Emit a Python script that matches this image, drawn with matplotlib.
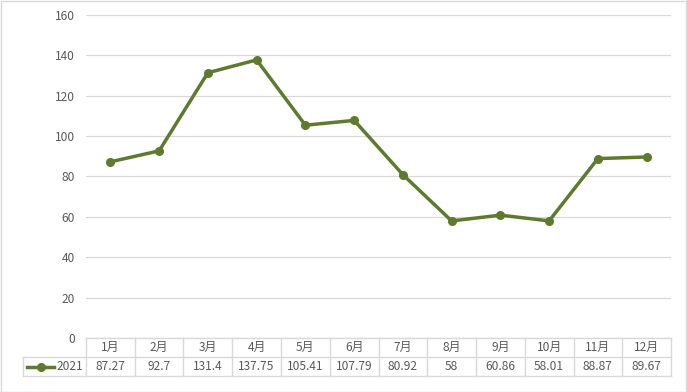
import matplotlib
matplotlib.use("Agg")
import matplotlib.pyplot as plt
from matplotlib.lines import Line2D
from matplotlib.patches import Rectangle

plt.rcParams['font.family'] = ['Noto Sans CJK SC', 'DejaVu Sans']

months = ["1月", "2月", "3月", "4月", "5月", "6月", "7月", "8月", "9月", "10月", "11月", "12月"]
values = [87.27, 92.7, 131.4, 137.75, 105.41, 107.79, 80.92, 58, 60.86, 58.01, 88.87, 89.67]
series_name = "2021"
yticks = [0, 20, 40, 60, 80, 100, 120, 140, 160]

W, H = 687, 392
fig = plt.figure(figsize=(W / 100, H / 100), dpi=100)

def fx(px):
    return px / W

def fy(py):
    return 1 - py / H

L, R, T, B = 86, 671, 15, 338
ax = fig.add_axes([fx(L), fy(B), fx(R) - fx(L), fy(T) - fy(B)])
line_color = "#5E7A2E"
text_color = "#595959"
grid_color = "#D9D9D9"
fs = 8.6

x = list(range(len(months)))
ax.plot(x, values, color=line_color, lw=2.5, marker="o", ms=5.5, zorder=3)
ax.set_xlim(-0.5, len(months) - 0.5)
ax.set_ylim(0, 160)
ax.set_yticks(yticks)
ax.yaxis.grid(True, color=grid_color, lw=0.9)
ax.set_axisbelow(True)
ax.set_xticks([])
for s in ax.spines.values():
    s.set_visible(False)
ax.tick_params(axis="y", length=0, pad=8, labelsize=fs, labelcolor=text_color)

# table
tc = grid_color
row1, row2, row3 = 338, 357, 376
legend_left = 23
cw = (R - L) / len(months)

def hline(y, x0, x1):
    fig.add_artist(Line2D([fx(x0), fx(x1)], [fy(y), fy(y)], color=tc, lw=1, transform=fig.transFigure))

def vline(xp, y0, y1):
    fig.add_artist(Line2D([fx(xp), fx(xp)], [fy(y0), fy(y1)], color=tc, lw=1, transform=fig.transFigure))

hline(row1, L, R)
hline(row2, legend_left, R)
hline(row3, legend_left, R)
vline(legend_left, row2, row3)
for i in range(len(months) + 1):
    vline(L + i * cw, row1, row3)

for i, (m, v) in enumerate(zip(months, values)):
    cx = L + (i + 0.5) * cw
    fig.text(fx(cx), fy((row1 + row2) / 2), m, ha="center", va="center", fontsize=fs, color=text_color)
    fig.text(fx(cx), fy((row2 + row3) / 2), f"{v:g}", ha="center", va="center", fontsize=fs, color=text_color)

ly = (row2 + row3) / 2
fig.add_artist(Line2D([fx(27), fx(54)], [fy(ly), fy(ly)], color=line_color, lw=2.5, transform=fig.transFigure))
fig.add_artist(Line2D([fx(40.5)], [fy(ly)], color=line_color, marker="o", ms=5.5, transform=fig.transFigure))
fig.text(fx(83), fy(ly), series_name, ha="right", va="center", fontsize=fs, color=text_color)

# outer border
fig.add_artist(Rectangle((0.5 / W, 0.5 / H), 1 - 1.5 / W, 1 - 1.5 / H, transform=fig.transFigure,
                         fill=False, edgecolor=grid_color, lw=1))

fig.savefig("out.png", dpi=100)
